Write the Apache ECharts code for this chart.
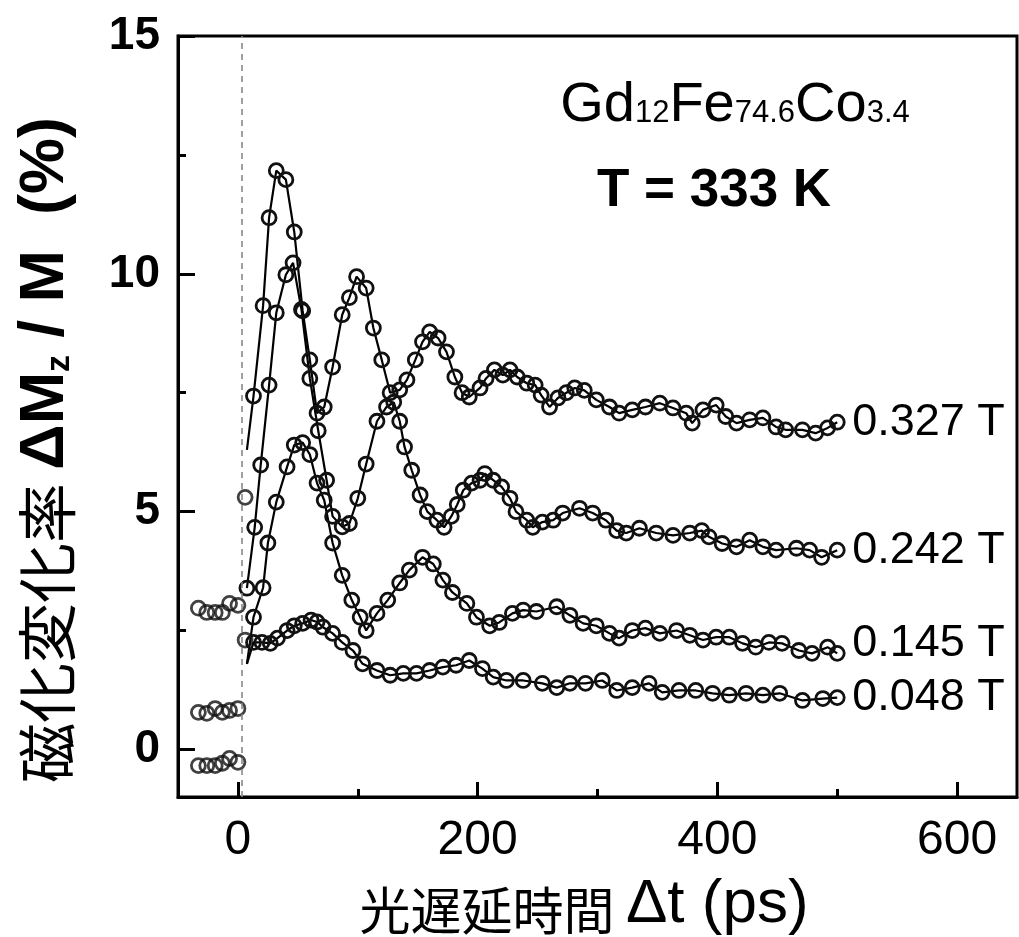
<!DOCTYPE html>
<html>
<head>
<meta charset="utf-8">
<title>GdFeCo 歳差運動</title>
<script src="https://cdn.jsdelivr.net/npm/echarts@6.0.0/dist/echarts.min.js"></script>
<style>
  html, body { margin: 0; padding: 0; background: #fff; }
  #chart { width: 1019px; height: 937px; }
</style>
</head>
<body>
<div id="chart"></div>
<script>
// 磁場ラベル
const fields = ['0.327 T', '0.242 T', '0.145 T', '0.048 T'];

// 0 ps 以前 (と直後の孤立点) の測定点
const preT327 = [-33, -26, -19, -13, -7, 0, 6];
const preV327 = [2.97, 2.88, 2.88, 2.88, 3.07, 3.03, 5.3];
const preT242 = [-33, -26, -19, -13, -7, 0];
const preV242 = [0.78, 0.76, 0.86, 0.78, 0.82, 0.86];
const preT145 = [-33, -26, -19, -13, -7, 0];
const preV145 = [-0.34, -0.34, -0.34, -0.29, -0.19, -0.27];
const preT048 = [6];
const preV048 = [2.3];

// フィット線の始点 (7.5 ps)
const fitT = 7.5;
const fitV = [6.3, null, 1.8, 1.8];

// 測定点 Δt (ps) と ΔMz/M (%)
const t327 = [13, 21, 26, 32, 40, 47, 54, 60, 66, 72, 79, 87, 93, 99, 107, 113, 120, 127, 135, 141,
  148, 154, 160, 167, 174, 181, 187, 193, 202, 207, 214, 221, 227, 233, 241, 248, 253, 260, 267, 274,
  281, 289, 299, 310, 318, 329, 340, 352, 363, 374, 379, 388, 399, 407, 416, 427, 438, 449, 457, 471,
  482, 492, 500];
const v327 = [7.43, 9.33, 11.18, 12.17, 11.98, 10.88, 9.22, 8.19, 7.07, 7.2, 8.04, 9.14, 9.5, 9.94, 9.7, 8.86, 8.19, 7.5, 7.56, 7.77,
  8.19, 8.57, 8.78, 8.65, 8.36, 7.83, 7.5, 7.41, 7.6, 7.8, 7.98, 7.87, 7.98, 7.83, 7.7, 7.66, 7.45, 7.2, 7.39, 7.5,
  7.6, 7.55, 7.35, 7.2, 7.07, 7.14, 7.2, 7.28, 7.18, 7.07, 6.86, 7.14, 7.24, 7.0, 6.86, 6.93, 6.97, 6.78, 6.72, 6.72,
  6.65, 6.76, 6.88];

const t242 = [7.5, 14, 19, 26, 32, 40, 46, 53, 60, 67, 74, 79, 87, 93, 100, 107, 116, 124, 130, 135,
  139, 145, 152, 158, 166, 172, 178, 183, 188, 195, 202, 206, 213, 220, 227, 232, 241, 246, 254, 263,
  271, 285, 296, 307, 316, 324, 335, 349, 363, 377, 387, 393, 404, 416, 427, 438, 449, 466, 477, 487, 500];
const v242 = [3.39, 4.67, 5.98, 7.66, 9.18, 9.98, 10.23, 9.25, 7.8, 6.7, 5.66, 4.9, 4.68, 4.75, 5.28, 6.0, 6.9, 7.2, 7.3, 6.9,
  6.36, 5.87, 5.35, 5.0, 4.82, 4.67, 4.9, 5.15, 5.45, 5.6, 5.66, 5.8, 5.66, 5.52, 5.28, 5.0, 4.82, 4.67, 4.78, 4.82,
  4.97, 5.07, 4.97, 4.82, 4.6, 4.55, 4.65, 4.55, 4.5, 4.55, 4.6, 4.47, 4.33, 4.26, 4.4, 4.26, 4.19, 4.23, 4.19, 4.04, 4.19];

const t145 = [13, 21, 25, 32, 41, 47, 54, 60, 66, 72, 79, 87, 95, 102, 107, 116, 125, 135, 143, 154,
  163, 171, 179, 191, 199, 210, 218, 229, 238, 249, 266, 277, 288, 299, 310, 318, 329, 340, 352, 366,
  377, 388, 399, 410, 421, 432, 443, 454, 468, 479, 492, 500];
const v145 = [2.78, 3.4, 4.34, 5.2, 5.94, 6.4, 6.45, 6.2, 5.6, 5.24, 4.34, 3.66, 3.14, 2.78, 2.5, 2.86, 3.14, 3.5, 3.77, 4.04,
  3.9, 3.56, 3.3, 3.07, 2.78, 2.6, 2.67, 2.86, 2.93, 2.9, 3.0, 2.82, 2.65, 2.6, 2.44, 2.34, 2.5, 2.55, 2.44, 2.5,
  2.4, 2.3, 2.36, 2.36, 2.23, 2.15, 2.25, 2.23, 2.08, 2.02, 2.15, 2.02];

const t048 = [13, 20, 27, 33, 41, 47, 54, 61, 66, 71, 79, 87, 96, 104, 116, 127, 138, 149, 160, 171,
  182, 193, 204, 213, 224, 238, 254, 266, 277, 290, 304, 316, 329, 343, 354, 368, 382, 396, 410, 424,
  438, 452, 471, 488, 500];
const v048 = [2.25, 2.25, 2.23, 2.34, 2.5, 2.6, 2.65, 2.72, 2.68, 2.57, 2.44, 2.25, 2.08, 1.8, 1.66, 1.56, 1.6, 1.6, 1.66, 1.73,
  1.77, 1.87, 1.7, 1.52, 1.45, 1.45, 1.39, 1.3, 1.39, 1.39, 1.45, 1.24, 1.3, 1.39, 1.2, 1.24, 1.24, 1.18, 1.14, 1.18,
  1.14, 1.18, 1.03, 1.07, 1.09];

// 目盛り
const xMajor = [0, 200, 400, 600];
const xMinor = [100, 300, 500];
const yMajor = [0, 5, 10, 15];
const yMinor = [2.5, 7.5, 12.5];

const lineT = [t327, t242, t145, t048];
const lineV = [v327, v242, v145, v048];
const preT = [preT327, preT242, preT145, preT048];
const preV = [preV327, preV242, preV145, preV048];
const labelShift = [0, 0, -10, 0];

const latin = "'Liberation Sans', Arial, sans-serif";
const cjk = "'Noto Sans CJK JP', 'Noto Sans CJK SC', sans-serif";

const chart = echarts.init(document.getElementById('chart'));

const dot = { color: 'rgba(0,0,0,0)', borderColor: '#111', borderWidth: 2.8 };

const series = [];
fields.forEach((name, i) => {
  const data = lineT[i].map((t, k) => [t, lineV[i][k]]);
  if (fitV[i] !== null) {
    data.unshift({ value: [fitT, fitV[i]], symbol: 'none' });
  }
  series.push({
    name: name,
    type: 'line',
    data: data,
    symbol: 'circle',
    symbolSize: 14,
    showAllSymbol: true,
    lineStyle: { color: '#000', width: 2.2 },
    itemStyle: dot,
    endLabel: {
      show: true,
      formatter: name,
      color: '#000',
      fontFamily: latin,
      fontSize: 45,
      distance: 15,
      offset: [0, labelShift[i]]
    },
    markLine: i === 0 ? {
      silent: true,
      symbol: ['none', 'none'],
      label: { show: false },
      lineStyle: { color: '#888', width: 1.6, type: [6, 5] },
      data: [{ xAxis: 3 }]
    } : undefined,
    z: 3
  });
  series.push({
    type: 'scatter',
    data: preT[i].map((t, k) => [t, preV[i][k]]),
    symbol: 'circle',
    symbolSize: 14,
    itemStyle: dot,
    z: 3
  });
});

const option = {
  animation: false,
  backgroundColor: '#fff',
  grid: {
    left: 178, right: 2, top: 36, bottom: 140,
    show: true, borderColor: '#000', borderWidth: 3
  },
  xAxis: [{
    type: 'value', min: -50, max: 650, position: 'bottom',
    axisLine: { show: true, onZero: false, lineStyle: { color: '#000', width: 3 } },
    axisTick: { show: true, inside: true, length: 15, customValues: xMajor, lineStyle: { color: '#000', width: 3 } },
    axisLabel: { customValues: xMajor, color: '#000', fontFamily: latin, fontSize: 48, margin: 20 },
    splitLine: { show: false }
  }, {
    type: 'value', min: -50, max: 650, position: 'bottom', offset: 0,
    axisLine: { show: false, onZero: false },
    axisTick: { show: true, inside: true, length: 8, customValues: xMinor, lineStyle: { color: '#000', width: 3 } },
    axisLabel: { show: false },
    splitLine: { show: false }
  }],
  yAxis: [{
    type: 'value', min: -1, max: 15, position: 'left',
    axisLine: { show: true, onZero: false, lineStyle: { color: '#000', width: 3 } },
    axisTick: { show: true, inside: true, length: 17, customValues: yMajor, lineStyle: { color: '#000', width: 3 } },
    axisLabel: { customValues: yMajor, color: '#000', fontFamily: latin, fontWeight: 'bold', fontSize: 46, margin: 18 },
    splitLine: { show: false }
  }, {
    type: 'value', min: -1, max: 15, position: 'left', offset: 0,
    axisLine: { show: false, onZero: false },
    axisTick: { show: true, inside: true, length: 8, customValues: yMinor, lineStyle: { color: '#000', width: 3 } },
    axisLabel: { show: false },
    splitLine: { show: false }
  }],
  series: series,
  graphic: [{
    type: 'text',
    x: 735, y: 134,
    style: {
      text: '{a|Gd}{b|12}{a|Fe}{b|74.6}{a|Co}{b|3.4}',
      align: 'center', verticalAlign: 'bottom',
      rich: {
        a: { fontFamily: latin, fontSize: 56, fill: '#000', verticalAlign: 'bottom', lineHeight: 56 },
        b: { fontFamily: latin, fontSize: 31, fill: '#000', verticalAlign: 'bottom', lineHeight: 31, padding: [0, 0, 5, 0] }
      }
    }
  }, {
    type: 'text',
    x: 714, y: 191,
    style: {
      text: 'T = 333 K',
      font: "bold 53px 'Liberation Sans', Arial, sans-serif",
      fill: '#000', align: 'center', verticalAlign: 'middle'
    }
  }, {
    type: 'text',
    x: 584, y: 903,
    style: {
      text: '{c|光遅延時間 }{l|Δt (ps)}',
      align: 'center', verticalAlign: 'middle',
      rich: {
        c: { fontFamily: cjk, fontSize: 51, fill: '#000', verticalAlign: 'bottom', lineHeight: 66 },
        l: { fontFamily: latin, fontSize: 62, fill: '#000', verticalAlign: 'bottom', lineHeight: 66 }
      }
    }
  }, {
    type: 'text',
    x: 44, y: 450,
    rotation: Math.PI / 2,
    style: {
      text: '{c|磁化変化率 }{l|ΔM}{s|z}{l| / M  (%)}',
      align: 'center', verticalAlign: 'middle',
      rich: {
        c: { fontFamily: cjk, fontSize: 60, fill: '#000', verticalAlign: 'bottom', lineHeight: 66 },
        l: { fontFamily: latin, fontWeight: 'bold', fontSize: 63, fill: '#000', verticalAlign: 'bottom', lineHeight: 66 },
        s: { fontFamily: latin, fontWeight: 'bold', fontSize: 34, fill: '#000', verticalAlign: 'bottom', lineHeight: 42 }
      }
    }
  }]
};

chart.setOption(option);
</script>
</body>
</html>
